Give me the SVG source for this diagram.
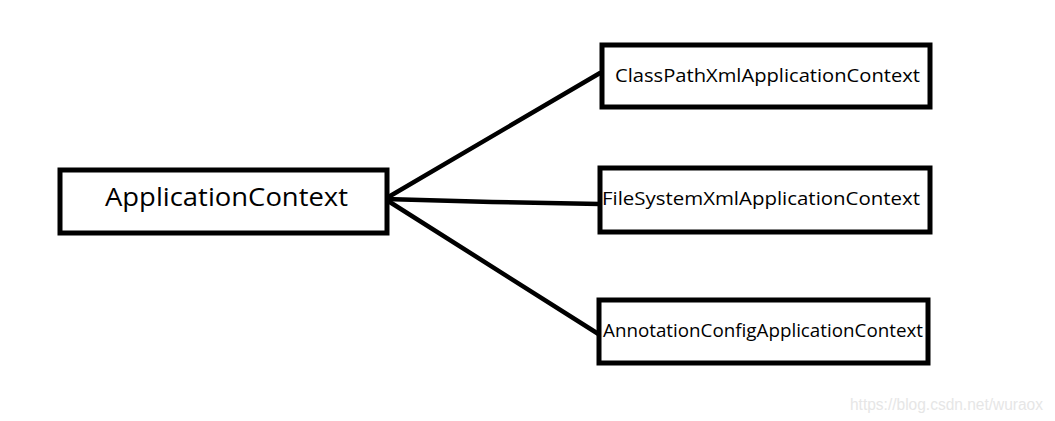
<svg xmlns="http://www.w3.org/2000/svg" width="1055" height="421" viewBox="0 0 1055 421">
<style>
.box{fill:#fff;stroke:#000;stroke-width:5}
.lbl{font-family:"Open Sans","Noto Sans","DejaVu Sans",sans-serif;fill:#000}
.conn{fill:none;stroke:#000;stroke-width:4.5;stroke-linecap:round;stroke-linejoin:round}
</style>
<rect width="1055" height="421" fill="#fff"/>
<g id="connectors">
<path class="conn" d="M385,199 L600,73"/>
<path class="conn" d="M385,199 L492,202 L600,204"/>
<path class="conn" d="M385,199 L600,335"/>
</g>
<g id="node-applicationcontext">
<rect class="box" x="60" y="170" width="327" height="63"/>
<text class="lbl" x="105" y="206" font-size="26" textLength="243" lengthAdjust="spacingAndGlyphs">ApplicationContext</text>
</g>
<g id="node-classpath">
<rect class="box" x="602" y="45" width="328" height="62"/>
<text class="lbl" x="615" y="82" font-size="19" textLength="305" lengthAdjust="spacingAndGlyphs">ClassPathXmlApplicationContext</text>
</g>
<g id="node-filesystem">
<rect class="box" x="600" y="168" width="330" height="64"/>
<text class="lbl" x="602" y="205" font-size="19" textLength="318" lengthAdjust="spacingAndGlyphs">FileSystemXmlApplicationContext</text>
</g>
<g id="node-annotation">
<rect class="box" x="599" y="300" width="329" height="63"/>
<text class="lbl" x="603" y="337" font-size="19" textLength="320" lengthAdjust="spacingAndGlyphs">AnnotationConfigApplicationContext</text>
</g>
<text x="850" y="410" font-family="'Liberation Sans',Arial,sans-serif" font-size="16" fill="#e6e6e6" textLength="193" lengthAdjust="spacingAndGlyphs">https://blog.csdn.net/wuraox</text>
</svg>
